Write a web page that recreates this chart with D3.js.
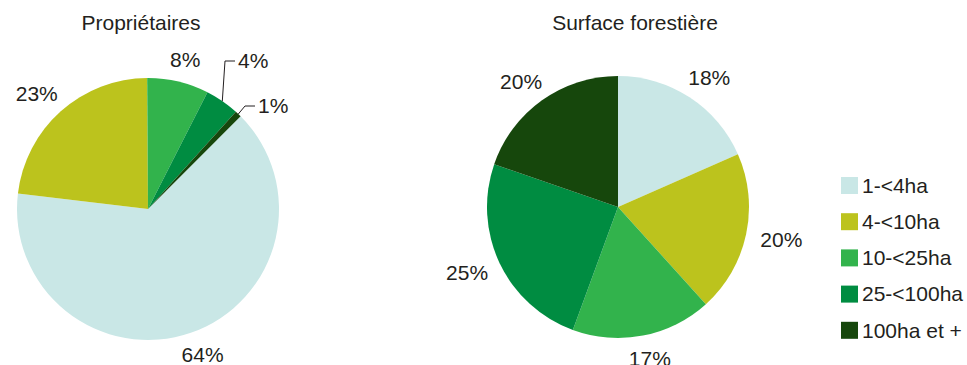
<!DOCTYPE html>
<html>
<head>
<meta charset="utf-8">
<script src="https://cdn.jsdelivr.net/npm/d3@7"></script>
<style>
  body { margin: 0; background: #fff; }
  svg { display: block; }
  text { font-family: Arial, "Liberation Sans", sans-serif; fill: #231f20; }
</style>
</head>
<body>
<svg width="967" height="365"></svg>
<script>
// data
var categories = ['1-<4ha', '4-<10ha', '10-<25ha', '25-<100ha', '100ha et +'];
var colors = ['#c9e7e6', '#bcc31d', '#32b34c', '#008c41', '#16470c'];
var proprietaires = [64.4, 23.0, 7.6, 4.2, 0.8];
var surface = [18.4, 19.9, 17.3, 24.7, 19.7];
var titles = ['Propriétaires', 'Surface forestière'];

var svg, radius, fontSize;

document.addEventListener('DOMContentLoaded', function () {
  svg = d3.select('svg');
  radius = 131;
  fontSize = 21;

  // left pie: first slice rotated 45deg, two small labels pulled out with leader lines
  drawPie(proprietaires, titles[0], {cx: 148, cy: 209, start: 45, titleDx: -7,
    moved: {3: [90, -148], 4: [110, -103]}});
  drawPie(surface, titles[1], {cx: 618, cy: 207, start: 0, titleDx: 17, moved: {}});
  drawLegend();
});

function drawPie(values, title, opt) {
  var a0 = opt.start * Math.PI / 180;
  var pie = d3.pie().sort(null).value(d => d)
    .startAngle(a0).endAngle(a0 + 2 * Math.PI);
  var arcs = pie(values);
  var arc = d3.arc().innerRadius(0).outerRadius(radius);

  var g = svg.append('g').attr('transform', 'translate(' + opt.cx + ',' + opt.cy + ')');

  g.selectAll('path')
    .data(arcs)
    .enter()
    .append('path')
    .attr('d', arc)
    .attr('fill', (d, i) => colors[i]);

  svg.append('text')
    .attr('x', opt.cx + opt.titleDx)
    .attr('y', 30)
    .attr('text-anchor', 'middle')
    .style('font-size', fontSize + 'px')
    .text(title);

  arcs.forEach(function (d, i) {
    var label = Math.round(d.value) + '%';
    var mid = (d.startAngle + d.endAngle) / 2;
    var s = Math.sin(mid), c = Math.cos(mid);
    if (opt.moved[i]) {
      var p = opt.moved[i];
      var ex = s * radius, ey = -c * radius;
      g.append('polyline')
        .attr('points', [[ex, ey], [p[0] - 13, p[1]], [p[0] - 3, p[1]]].map(q => q.join(',')).join(' '))
        .attr('fill', 'none')
        .attr('stroke', '#231f20')
        .attr('stroke-width', 1);
      g.append('text')
        .attr('x', p[0])
        .attr('y', p[1])
        .attr('dy', '0.35em')
        .style('font-size', fontSize + 'px')
        .text(label);
      return;
    }
    var t = g.append('text')
      .attr('text-anchor', 'middle')
      .attr('dy', '0.35em')
      .style('font-size', fontSize + 'px')
      .text(label);
    var w = t.node().getComputedTextLength();
    var rr = radius + 15;
    var x = s * rr + s * w / 2;
    var y = -c * rr - c * 8;
    t.attr('x', x).attr('y', y);
  });
}

function drawLegend() {
  var lg = svg.append('g').attr('transform', 'translate(841,177)');
  var item = lg.selectAll('g')
    .data(categories)
    .enter()
    .append('g')
    .attr('transform', (d, i) => 'translate(0,' + (i * 36.2) + ')');
  item.append('rect')
    .attr('width', 17)
    .attr('height', 17)
    .attr('fill', (d, i) => colors[i]);
  item.append('text')
    .attr('x', 21)
    .attr('y', 8.5)
    .attr('dy', '0.35em')
    .style('font-size', fontSize + 'px')
    .text(d => d);
}
</script>
</body>
</html>
